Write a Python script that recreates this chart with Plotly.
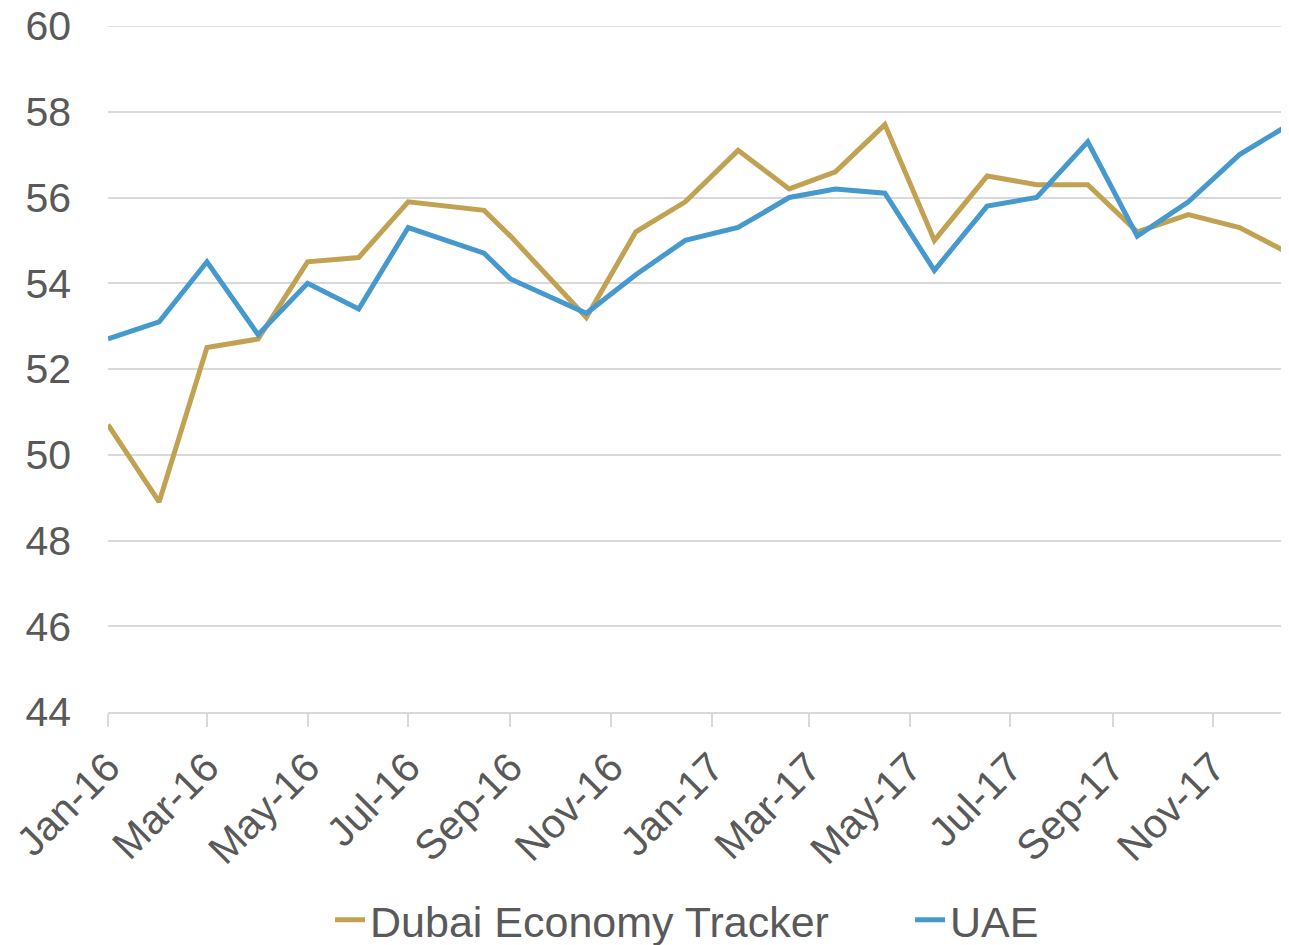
import plotly.graph_objects as go

dates = ["2016-01-01", "2016-02-01", "2016-03-01", "2016-04-01", "2016-05-01", "2016-06-01",
         "2016-07-01", "2016-08-16", "2016-09-01", "2016-10-17", "2016-11-16", "2016-12-16",
         "2017-01-17", "2017-02-17", "2017-03-17", "2017-04-16", "2017-05-16", "2017-06-17",
         "2017-07-17", "2017-08-17", "2017-09-16", "2017-10-17", "2017-11-17", "2017-12-17"]

dubai = [50.7, 48.9, 52.5, 52.7, 54.5, 54.6, 55.9, 55.7, 55.1, 53.2, 55.2, 55.9,
         57.1, 56.2, 56.6, 57.7, 55.0, 56.5, 56.3, 56.3, 55.2, 55.6, 55.3, 54.7]

uae = [52.7, 53.1, 54.5, 52.8, 54.0, 53.4, 55.3, 54.7, 54.1, 53.3, 54.2, 55.0,
       55.3, 56.0, 56.2, 56.1, 54.3, 55.8, 56.0, 57.3, 55.1, 55.9, 57.0, 57.7]

y_ticks = [44, 46, 48, 50, 52, 54, 56, 58, 60]

GOLD = "#C1A253"
BLUE = "#4699CC"
TEXT = "#595959"
GRID = "#D9D9D9"
FONT = "Liberation Sans, Arial, sans-serif"

fig = go.Figure()
fig.add_trace(go.Scatter(x=dates, y=dubai, mode="lines", name="Dubai Economy Tracker",
                         line=dict(color=GOLD, width=5), cliponaxis=False))
fig.add_trace(go.Scatter(x=dates, y=uae, mode="lines", name="UAE",
                         line=dict(color=BLUE, width=5), cliponaxis=False))

# top gridline at 60
fig.add_shape(type="line", xref="paper", x0=0, x1=1, yref="y", y0=y_ticks[-1], y1=y_ticks[-1],
              line=dict(color=GRID, width=1.5), layer="below")

# page body has an 8px margin: compensate so the plot fills the 1289x945 window
fig.update_layout(
    width=1281, height=937,
    margin=dict(l=100, r=0, t=18, b=233, autoexpand=False),
    plot_bgcolor="white", paper_bgcolor="white",
    font=dict(family=FONT, size=41, color=TEXT),
    showlegend=True,
    legend=dict(orientation="h", x=0.188, xanchor="left", y=-0.303, yanchor="middle",
                font=dict(size=43, color=TEXT), entrywidth=535, entrywidthmode="pixels",
                tracegroupgap=0, bgcolor="rgba(0,0,0,0)"),
    xaxis=dict(
        type="date", range=["2016-01-01", "2017-12-17"], automargin=False,
        tick0="2016-01-01", dtick="M2", tickformat="%b-%y", ticklabeloverflow="allow",
        tickangle=-45, ticks="outside", ticklen=13, tickcolor=GRID, tickwidth=1.5,
        showline=True, linecolor=GRID, linewidth=1.5, showgrid=False,
        tickfont=dict(size=41, color=TEXT), zeroline=False,
    ),
    yaxis=dict(
        range=[44, 60], tickvals=y_ticks, showgrid=True, gridcolor=GRID, gridwidth=1.5,
        showline=False, zeroline=False, ticks="", ticklabelstandoff=36, automargin=False,
        ticklabeloverflow="allow",
        tickfont=dict(size=41, color=TEXT),
    ),
)

fig.write_html("out.html")
